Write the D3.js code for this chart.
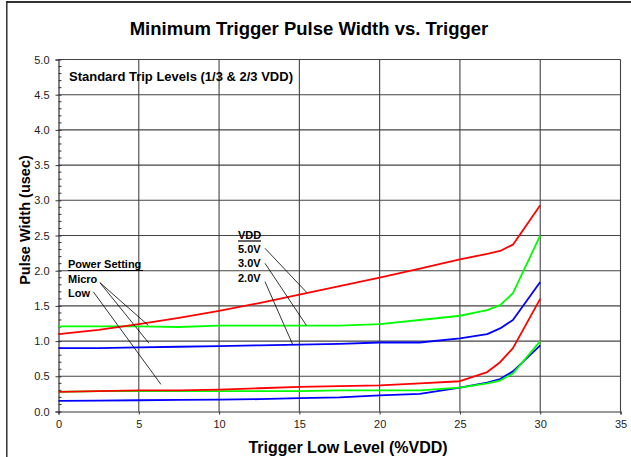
<!DOCTYPE html>
<html><head><meta charset="utf-8">
<script src="https://cdn.jsdelivr.net/npm/d3@7"></script>
<style>html,body{margin:0;padding:0;background:#fff;}svg{display:block;font-family:Arial,"Liberation Sans",Helvetica,sans-serif;}</style>
</head><body>
<svg id="c" width="631" height="457"></svg>
<script>
// ---- data ----
const xValues = [0, 2.5, 5, 7.5, 10, 12.5, 15, 17.5, 20, 22.5, 25, 26.7, 27.5, 28.3, 30];
const micro5V = [1.10,1.16,1.24,1.33,1.43,1.54,1.66,1.78,1.90,2.03,2.16,2.24,2.28,2.37,2.93];
const micro3V = [1.21,1.21,1.21,1.20,1.22,1.22,1.22,1.22,1.24,1.30,1.36,1.44,1.51,1.68,2.50];
const micro2V = [0.90,0.90,0.91,0.92,0.93,0.94,0.95,0.96,0.98,0.98,1.04,1.10,1.18,1.30,1.84];
const low5V   = [0.28,0.29,0.30,0.30,0.31,0.33,0.35,0.36,0.37,0.40,0.43,0.56,0.70,0.90,1.60];
const low3V   = [0.28,0.29,0.29,0.29,0.29,0.29,0.29,0.30,0.30,0.30,0.34,0.40,0.44,0.54,1.00];
const low2V   = [0.15,0.155,0.16,0.165,0.17,0.175,0.19,0.20,0.23,0.25,0.34,0.41,0.46,0.57,0.94];
const xTicks = [0,5,10,15,20,25,30,35];
const yTicks = [0,0.5,1,1.5,2,2.5,3,3.5,4,4.5,5];
const seriesNames = ["Low 2.0V","Micro 2.0V","Low 3.0V","Micro 3.0V","Low 5.0V","Micro 5.0V"];
const seriesValues = [low2V, micro2V, low3V, micro3V, low5V, micro5V];
const seriesColors = ["#0000ff","#0000ff","#00ff00","#00ff00","#ff0000","#ff0000"];

const svg = d3.select("#c");
const x = d3.scaleLinear().domain([0,35]).range([58.5,620.5]);
const y = d3.scaleLinear().domain([0,5]).range([411.5,59.5]);

// outer frame
svg.append("line").attr("x1",6.5).attr("x2",640).attr("y1",2).attr("y2",2).attr("stroke","#333").attr("stroke-width",2);
svg.append("line").attr("x1",6.8).attr("x2",6.8).attr("y1",1).attr("y2",470).attr("stroke","#222").attr("stroke-width",1.4);

// title
svg.append("text").attr("x",309).attr("y",35).attr("text-anchor","middle")
  .attr("font-size","18.5px").attr("font-weight","bold").attr("fill","#000")
  .text("Minimum Trigger Pulse Width vs. Trigger");

// grid
const g = svg.append("g");
g.selectAll(".hg").data(yTicks.filter(d=>d>0)).join("line")
  .attr("x1",x(0)).attr("x2",x(35)).attr("y1",d=>y(d)).attr("y2",d=>y(d))
  .attr("stroke","#444").attr("stroke-width",1.1);
g.selectAll(".vg").data(xTicks.filter(d=>d>0)).join("line")
  .attr("y1",y(0)).attr("y2",y(5)).attr("x1",d=>x(d)).attr("x2",d=>x(d))
  .attr("stroke","#444").attr("stroke-width",1.1);

// axes
const xAxis = d3.axisBottom(x).tickValues(xTicks).tickSize(3).tickPadding(6).tickFormat(d3.format("d"));
const xg = svg.append("g").attr("transform",`translate(0,${y(0)})`).call(xAxis);
xg.select(".domain").attr("stroke","#333").attr("stroke-width",1.2);
xg.selectAll(".tick line").attr("stroke","#333");
xg.selectAll("text").attr("font-size","11px").attr("fill","#222").attr("font-family","Arial, Liberation Sans, sans-serif");

const yAxis = d3.axisLeft(y).tickValues(yTicks).tickSize(3).tickPadding(6).tickFormat(d3.format(".1f"));
const yg = svg.append("g").attr("transform",`translate(${x(0)},0)`).call(yAxis);
yg.select(".domain").attr("stroke","#333").attr("stroke-width",1.2);
yg.selectAll(".tick line").attr("stroke","#333").attr("x2",3).attr("x1",-3);
yg.selectAll("text").attr("font-size","11px").attr("fill","#222").attr("font-family","Arial, Liberation Sans, sans-serif");
// minor ticks
const minor = d3.range(0,5.0001,0.1).map(v=>Math.round(v*10)/10).filter(v=>Math.round(v*10)%5!==0);
svg.append("g").selectAll("line").data(minor).join("line")
  .attr("x1",x(0)).attr("x2",x(0)+3).attr("y1",d=>y(d)).attr("y2",d=>y(d))
  .attr("stroke","#333").attr("stroke-width",1);

// axis titles
svg.append("text").attr("transform",`translate(30,${220}) rotate(-90)`).attr("text-anchor","middle")
  .attr("font-size","14.5px").attr("font-weight","bold").text("Pulse Width (usec)");
svg.append("text").attr("x",348).attr("y",453).attr("text-anchor","middle")
  .attr("font-size","16px").attr("font-weight","bold").text("Trigger Low Level (%VDD)");

// series lines
const line = d3.line().x((d,i)=>x(xValues[i])).y(d=>y(d)).curve(d3.curveLinear);
svg.append("g").selectAll("path").data(seriesValues).join("path")
  .attr("d",d=>line(d)).attr("fill","none")
  .attr("stroke",(d,i)=>seriesColors[i]).attr("stroke-width",1.8)
  .attr("stroke-linejoin","round");

// annotations
svg.append("text").attr("x",69).attr("y",81).attr("font-size","13px").attr("font-weight","bold")
  .text("Standard Trip Levels (1/3 & 2/3 VDD)");
const ann = svg.append("g").attr("font-size","11px").attr("font-weight","bold");
ann.append("text").attr("x",68).attr("y",268).text("Power Setting");
ann.append("line").attr("x1",68).attr("x2",143).attr("y1",270.5).attr("y2",270.5).attr("stroke","#000").attr("stroke-width",1.2);
ann.append("text").attr("x",68).attr("y",282.5).text("Micro");
ann.append("text").attr("x",68).attr("y",296.5).text("Low");
ann.append("text").attr("x",238).attr("y",238.5).text("VDD");
ann.append("line").attr("x1",238).attr("x2",261).attr("y1",241).attr("y2",241).attr("stroke","#000").attr("stroke-width",1.2);
ann.append("text").attr("x",238).attr("y",253).text("5.0V");
ann.append("text").attr("x",238).attr("y",267).text("3.0V");
ann.append("text").attr("x",238).attr("y",282).text("2.0V");

// leader lines (data coordinates)
const leaders = [
  [[2.58,1.83],[5.59,1.224]],
  [[2.58,1.83],[5.63,0.970]],
  [[2.17,1.70],[6.38,0.385]],
  [[12.86,2.318],[15.45,1.693]],
  [[12.86,2.105],[15.45,1.219]],
  [[12.86,1.844],[14.58,0.954]]
];
svg.append("g").selectAll("line").data(leaders).join("line")
  .attr("x1",d=>x(d[0][0])).attr("y1",d=>y(d[0][1]))
  .attr("x2",d=>x(d[1][0])).attr("y2",d=>y(d[1][1]))
  .attr("stroke","#000").attr("stroke-width",0.8);
</script>
</body></html>
